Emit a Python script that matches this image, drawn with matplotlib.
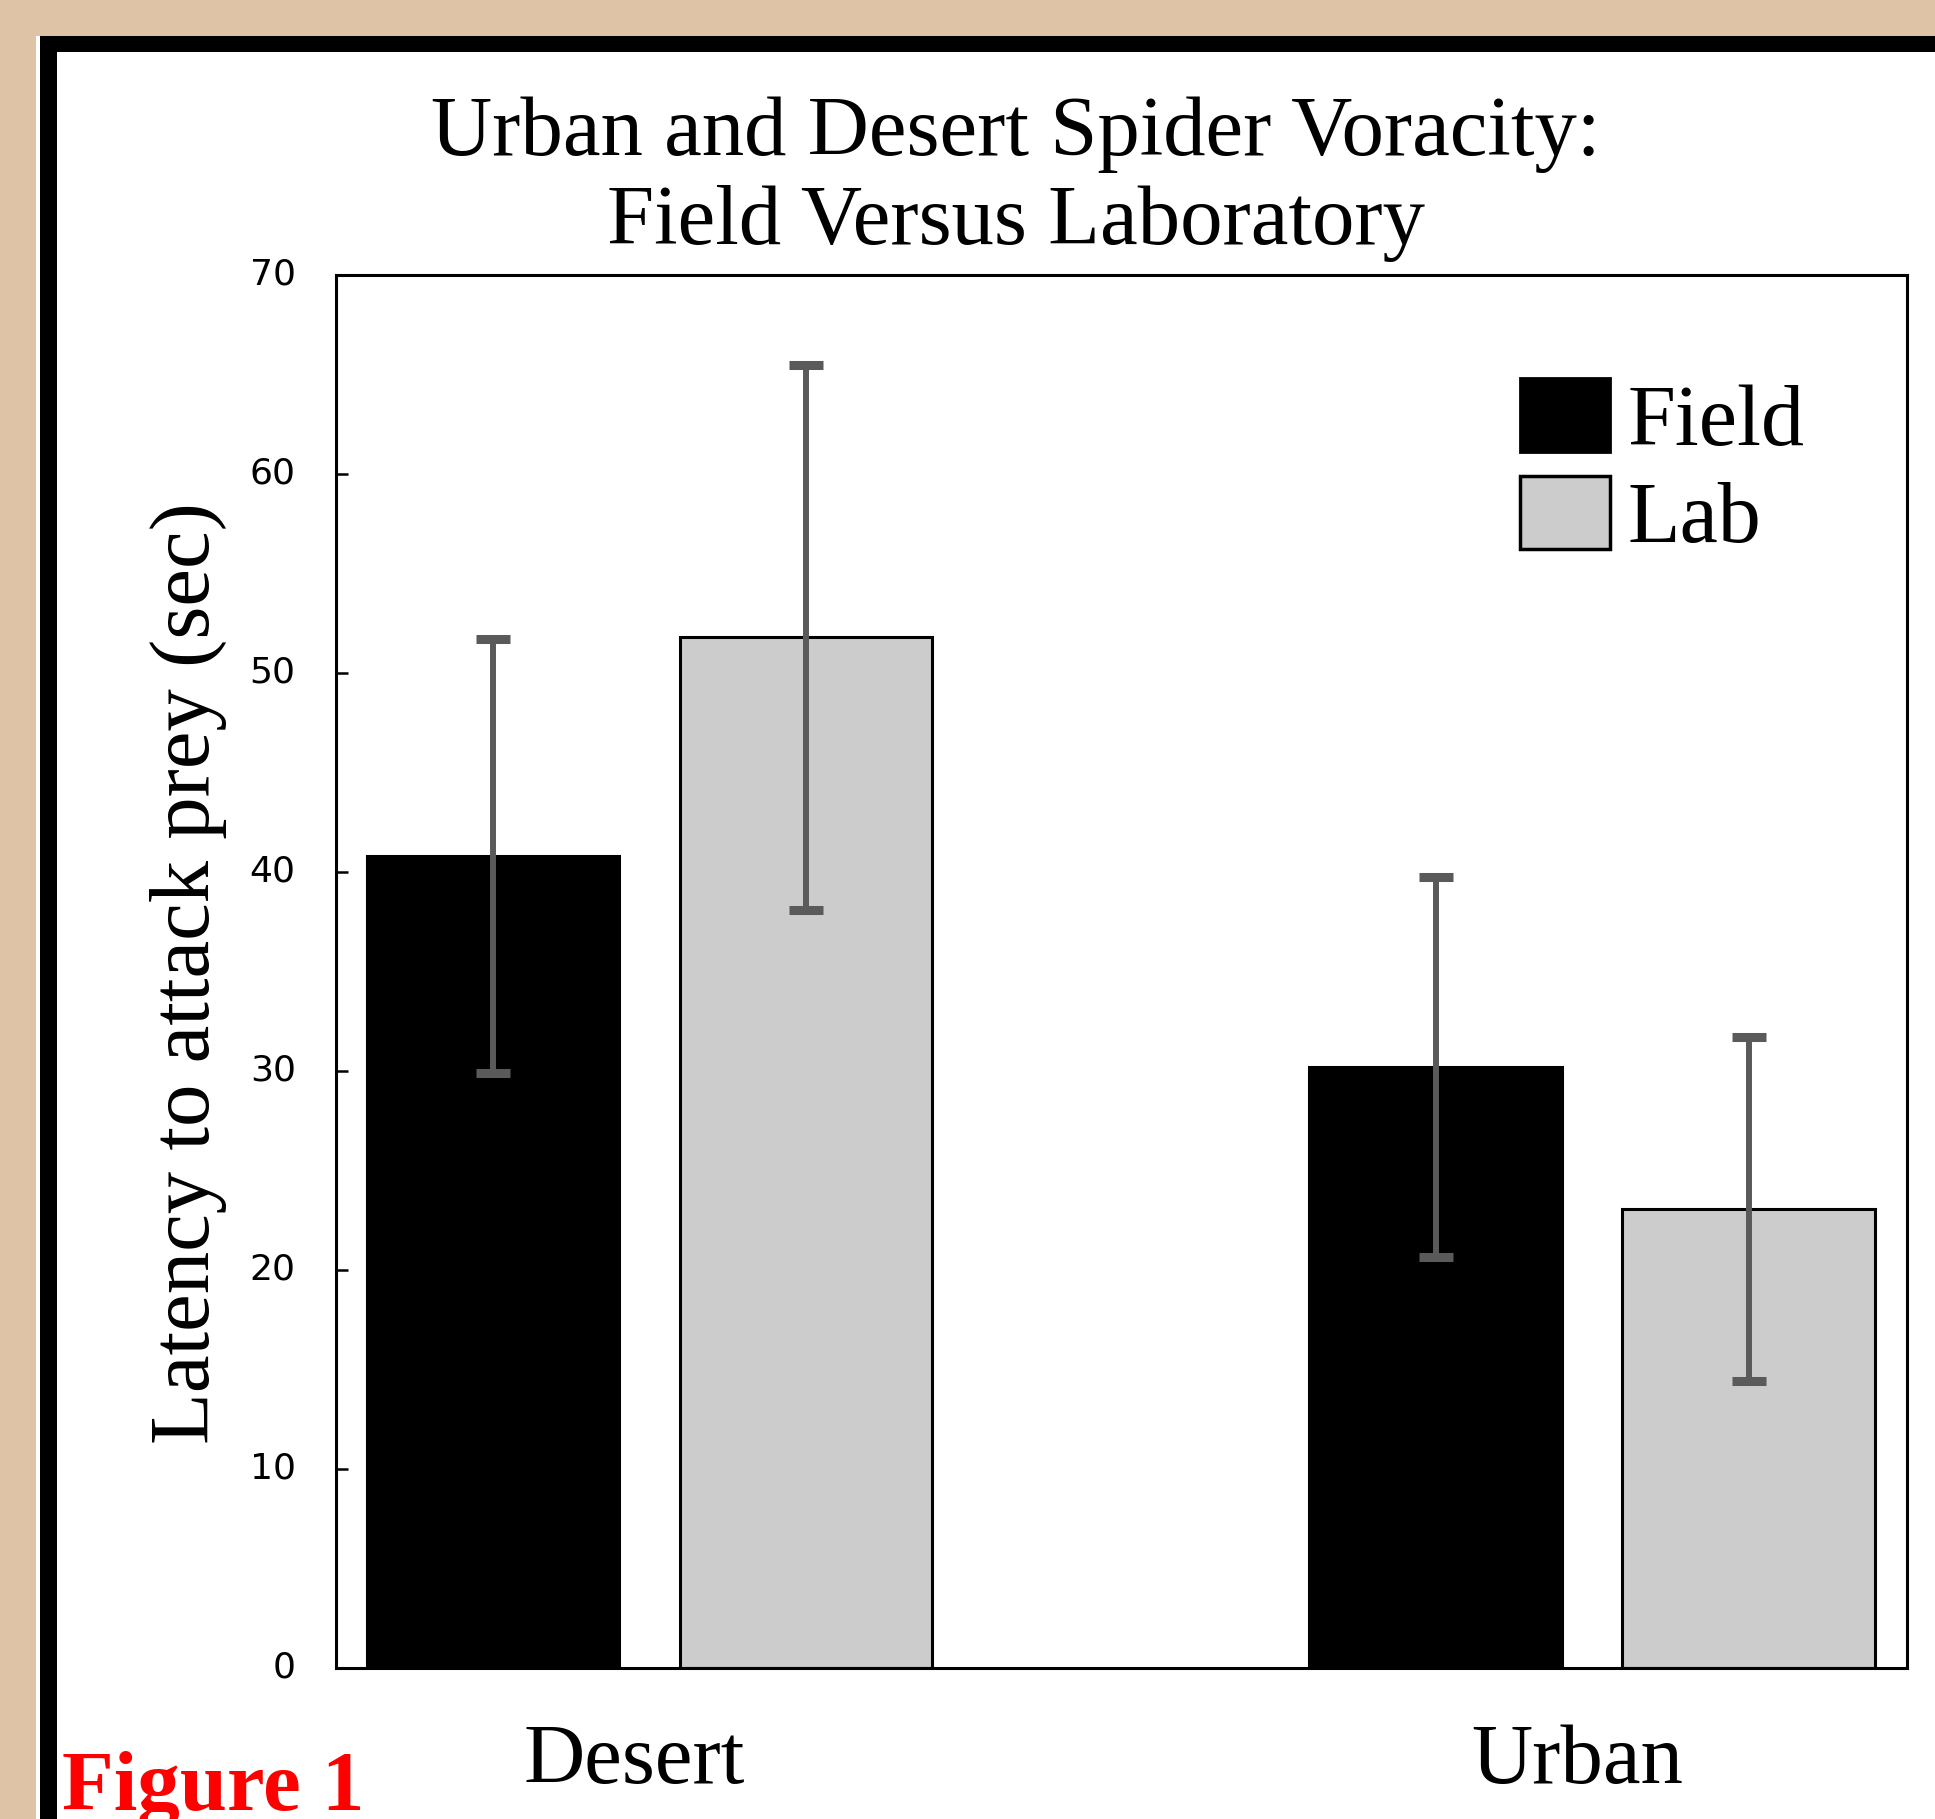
import matplotlib
matplotlib.use('Agg')
import matplotlib.pyplot as plt
from matplotlib.patches import Rectangle, Patch
from matplotlib.transforms import ScaledTranslation
import numpy as np

# ---- data ----
categories = ['Desert', 'Urban']
series_names = ['Field', 'Lab']
field_means = [40.8, 30.2]
field_err = [10.9, 9.55]
lab_means = [51.8, 23.05]
lab_err = [13.7, 8.65]
y_ticks = [0, 10, 20, 30, 40, 50, 60, 70]
title_text = 'Urban and Desert Spider Voracity:\nField Versus Laboratory'
ylabel_text = 'Latency to attack prey (sec)'
caption_text = 'Figure 1'

SERIF = 'Liberation Serif'
W, H = 1935, 1819

fig = plt.figure(figsize=(W / 100, H / 100), dpi=100)
fig.patch.set_facecolor('#dec3a7')


def frect(x0, y0, color, z):
    # rectangle from pixel (x0, y0) (top-left, image coords) to bottom-right corner of figure
    r = Rectangle((x0 / W, 0), (W - x0) / W, (H - y0) / H, transform=fig.transFigure,
                  facecolor=color, edgecolor='none', zorder=z)
    fig.add_artist(r)


frect(36, 36, 'white', -10)
frect(40, 36, 'black', -9)
frect(57, 52, 'white', -8)

ax = fig.add_axes([336 / W, 1 - 1668 / H, (1907 - 336) / W, (1668 - 275) / H])
ax.set_facecolor('white')

x = np.arange(len(categories))
w = 0.268
off = 0.166
ax.bar(x - off, field_means, w, color='black', edgecolor='black', linewidth=2.2, zorder=2)
ax.bar(x + off, lab_means, w, color='#cccccc', edgecolor='black', linewidth=2.2, zorder=2)
ax.errorbar(x - off, field_means, yerr=field_err, fmt='none', ecolor='#5a5a5a',
            elinewidth=4.3, capsize=12.5, capthick=6.5, zorder=3)
ax.errorbar(x + off, lab_means, yerr=lab_err, fmt='none', ecolor='#5a5a5a',
            elinewidth=4.3, capsize=12.5, capthick=6.5, zorder=3)

ax.set_xlim(-0.3326, 1.334)
ax.set_ylim(0, 70)
ax.set_yticks(y_ticks)
ax.set_yticklabels([str(t) for t in y_ticks], fontfamily='DejaVu Sans', fontsize=26)
ax.tick_params(axis='y', direction='in', length=8.5, width=1.8, pad=29)
ax.set_xticks(x)
ax.set_xticklabels(categories, fontfamily=SERIF, fontsize=61)
ax.tick_params(axis='x', length=0, pad=40)
shift = ScaledTranslation(-15 / 100, 0, fig.dpi_scale_trans)
for lbl in ax.get_xticklabels():
    lbl.set_transform(lbl.get_transform() + shift)
yshift = ScaledTranslation(0, 4 / 100, fig.dpi_scale_trans)
for lbl in ax.get_yticklabels():
    lbl.set_transform(lbl.get_transform() + yshift)
for s in ax.spines.values():
    s.set_linewidth(2.2)
    s.set_color('black')

handles = [Patch(facecolor='black', edgecolor='black', linewidth=2),
           Patch(facecolor='#cccccc', edgecolor='black', linewidth=2.5)]
ax.legend(handles, series_names, loc='upper left', bbox_to_anchor=(0.7537, 0.926),
          frameon=False, prop={'family': SERIF, 'size': 62},
          handlelength=1.05, handleheight=0.94, handletextpad=0.2,
          labelspacing=0.14, borderpad=0, borderaxespad=0)

fig.text(1016 / W, 1 - 244 / H, title_text, ha='center', va='baseline',
         fontsize=61, family=SERIF, linespacing=1.2)
fig.text(188 / W, 1 - 973.5 / H, ylabel_text, rotation=90, ha='center', va='center',
         fontsize=61, family=SERIF)
fig.text(62 / W, 9 / H, caption_text, color='#ff0000', fontweight='bold',
         fontsize=61, family=SERIF, va='baseline', ha='left')

fig.savefig('out.png', dpi=100, facecolor=fig.get_facecolor())
